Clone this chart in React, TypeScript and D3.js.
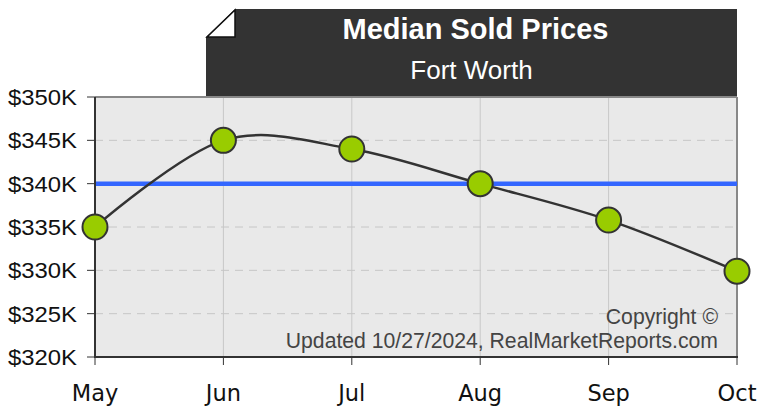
import React from "react";
import * as d3 from "d3";

const months = ["May", "Jun", "Jul", "Aug", "Sep", "Oct"];
const prices = [335000, 345000, 344000, 340000, 335800, 329900];
const averagePrice = 340000;
const yTickValues = [320000, 325000, 330000, 335000, 340000, 345000, 350000];
const title = "Median Sold Prices";
const subtitle = "Fort Worth";
const copyrightLines = ["Copyright ©", "Updated 10/27/2024, RealMarketReports.com"];

const W = 758;
const H = 406;
const M = { left: 95, right: 737, top: 97, bottom: 357 };

export default function App() {
  const x = d3.scalePoint<string>().domain(months).range([M.left, M.right]);
  const y = d3.scaleLinear().domain([320000, 350000]).range([M.bottom, M.top]);
  const line = d3
    .line<number>()
    .x((_, i) => x(months[i]) as number)
    .y((d) => y(d))
    .curve(d3.curveCardinal.tension(0));
  const fmt = (v: number) => "$" + d3.format(",.0f")(v / 1000) + "K";
  const arial = "Arial, 'Liberation Sans', Helvetica, sans-serif";
  const dejavu = "'DejaVu Sans', Verdana, sans-serif";

  const bx0 = 206, bx1 = 737, by0 = 9, by1 = 97, fold = 29;

  return (
    <svg width={W} height={H} style={{ position: "absolute", left: 0, top: 0 }}>
      <rect x={0} y={0} width={W} height={H} fill="#fff" />
      {/* title box */}
      <path
        d={`M${bx0 + fold},${by0} L${bx1},${by0} L${bx1},${by1} L${bx0},${by1} L${bx0},${by0 + fold - 1} Z`}
        fill="#333333"
      />
      <path
        d={`M${bx0 + fold},${by0 + 1} L${bx0 + fold},${by0 + fold - 1} L${bx0 + 1},${by0 + fold - 1} Z`}
        fill="#fff"
        stroke="#111"
        strokeWidth={1.5}
        strokeLinejoin="miter"
      />
      <text x={475.5} y={39} textAnchor="middle" fill="#fff" fontFamily={arial} fontWeight="bold" fontSize={29}>
        {title}
      </text>
      <text x={471.5} y={79} textAnchor="middle" fill="#fff" fontFamily={arial} fontSize={26}>
        {subtitle}
      </text>

      {/* plot background */}
      <rect x={M.left} y={M.top} width={M.right - M.left} height={M.bottom - M.top} fill="#e9e9e9" />
      {/* vertical grid */}
      {months.map((m) => (
        <line key={"vg" + m} x1={x(m)} x2={x(m)} y1={M.top} y2={M.bottom} stroke="#c8c8c8" strokeWidth={1} />
      ))}
      {/* horizontal grid */}
      {yTickValues.map((v) => (
        <line
          key={"hg" + v}
          x1={M.left}
          x2={M.right}
          y1={y(v)}
          y2={y(v)}
          stroke="#c6c6c6"
          strokeWidth={1}
          strokeDasharray="8,6"
        />
      ))}
      {/* borders */}
      <line x1={M.left} x2={M.right} y1={M.top} y2={M.top} stroke="#888" strokeWidth={2} />
      <line x1={M.right} x2={M.right} y1={M.top} y2={M.bottom} stroke="#888" strokeWidth={2} />

      {/* copyright */}
      <text x={718} y={324} textAnchor="end" fill="#444" fontFamily={arial} fontSize={21.2}>
        {copyrightLines[0]}
      </text>
      <text x={718} y={348} textAnchor="end" fill="#444" fontFamily={arial} fontSize={21.2}>
        {copyrightLines[1]}
      </text>

      {/* average line */}
      <line
        x1={M.left}
        x2={M.right}
        y1={y(averagePrice)}
        y2={y(averagePrice)}
        stroke="#3366ff"
        strokeWidth={4.5}
      />

      {/* axes */}
      <line x1={M.left} x2={M.left} y1={M.top} y2={M.bottom + 1} stroke="#333" strokeWidth={2} />
      <line x1={M.left} x2={M.right + 1} y1={M.bottom} y2={M.bottom} stroke="#333" strokeWidth={2} />
      {yTickValues.map((v) => (
        <g key={"yt" + v}>
          <line x1={M.left - 8} x2={M.left} y1={y(v)} y2={y(v)} stroke="#333" strokeWidth={1} />
          <text
            x={77}
            y={y(v) + 8}
            textAnchor="end"
            fill="#111"
            fontFamily={arial}
            fontSize={22.5}
            textLength={69}
            lengthAdjust="spacingAndGlyphs"
          >
            {fmt(v)}
          </text>
        </g>
      ))}
      {months.map((m) => (
        <g key={"xt" + m}>
          <line x1={x(m)} x2={x(m)} y1={M.bottom} y2={M.bottom + 8} stroke="#333" strokeWidth={1} />
          <text x={x(m)} y={401} textAnchor="middle" fill="#111" fontFamily={dejavu} fontSize={22.5}>
            {m}
          </text>
        </g>
      ))}

      {/* series */}
      <path d={line(prices) || ""} fill="none" stroke="#333" strokeWidth={2.5} />
      {prices.map((p, i) => (
        <circle key={"pt" + i} cx={x(months[i])} cy={y(p)} r={12.5} fill="#99cc00" stroke="#333" strokeWidth={2} />
      ))}
    </svg>
  );
}
